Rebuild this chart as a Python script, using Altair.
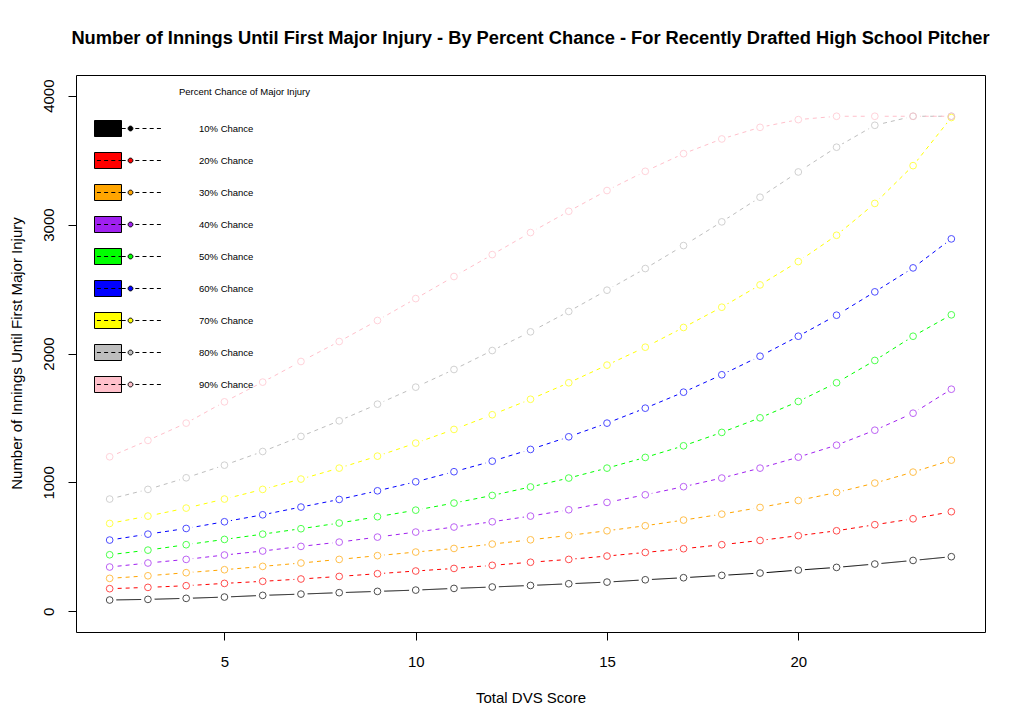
import altair as alt
import pandas as pd

# ---- data ----
scores = [2, 3, 4, 5, 6, 7, 8, 9, 10, 11, 12, 13, 14, 15, 16, 17, 18, 19, 20, 21, 22, 23, 24]
series_names = ["10% Chance", "20% Chance", "30% Chance", "40% Chance", "50% Chance",
                "60% Chance", "70% Chance", "80% Chance", "90% Chance"]
series_keys = ["p10", "p20", "p30", "p40", "p50", "p60", "p70", "p80", "p90"]
series_styles = ["solid", "dashed", "dashed", "dashed", "dashed", "dashed", "dashed", "dashed", "dashed"]
series_colors = ["#000000", "#FF0000", "#FFA500", "#A020F0", "#00FF00",
                 "#0000FF", "#FFFF00", "#BEBEBE", "#FFC0CB"]
p10 = [88, 93, 101, 111, 124, 134, 145, 155, 165, 178, 189, 201, 214, 227, 245, 261, 279, 297, 320, 341, 367, 395, 424]
p20 = [176, 186, 199, 217, 233, 251, 271, 292, 313, 333, 357, 381, 403, 429, 457, 486, 517, 550, 587, 625, 672, 718, 773]
p30 = [256, 276, 300, 323, 349, 375, 403, 432, 460, 488, 522, 555, 589, 625, 664, 708, 754, 806, 860, 922, 995, 1080, 1173]
p40 = [344, 375, 403, 437, 468, 504, 537, 576, 615, 654, 695, 739, 788, 845, 904, 967, 1034, 1111, 1196, 1289, 1405, 1537, 1723]
p50 = [439, 475, 517, 558, 599, 641, 685, 734, 785, 840, 899, 965, 1034, 1111, 1194, 1284, 1388, 1501, 1628, 1773, 1946, 2134, 2300]
p60 = [553, 599, 643, 695, 749, 809, 868, 935, 1005, 1083, 1165, 1256, 1354, 1460, 1576, 1700, 1835, 1979, 2134, 2297, 2478, 2664, 2889]
p70 = [682, 739, 801, 871, 946, 1026, 1111, 1204, 1305, 1411, 1525, 1645, 1773, 1910, 2049, 2202, 2359, 2532, 2713, 2917, 3164, 3457, 3830]
p80 = [871, 946, 1036, 1134, 1240, 1357, 1478, 1607, 1739, 1876, 2023, 2168, 2326, 2491, 2659, 2837, 3021, 3212, 3408, 3600, 3770, 3840, 3840]
p90 = [1199, 1326, 1460, 1625, 1778, 1938, 2093, 2256, 2426, 2597, 2767, 2938, 3103, 3264, 3413, 3550, 3664, 3754, 3814, 3840, 3840, 3840, 3840]
series_values = [p10, p20, p30, p40, p50, p60, p70, p80, p90]
x_ticks = [5, 10, 15, 20]
y_ticks = [0, 1000, 2000, 3000, 4000]

chart_title = "Number of Innings Until First Major Injury - By Percent Chance - For Recently Drafted High School Pitcher"
x_title = "Total DVS Score"
y_title = "Number of Innings Until First Major Injury"
legend_title = "Percent Chance of Major Injury"

rows = []
for name, key, style, vals in zip(series_names, series_keys, series_styles, series_values):
    for s, v in zip(scores, vals):
        rows.append({"score": s, "innings": v, "series": name, "key": key, "style": style})
df = pd.DataFrame(rows)

FONT = "Liberation Sans"

x_enc = alt.X("score:Q",
              scale=alt.Scale(domain=[1.12, 24.88], nice=False, zero=False),
              axis=alt.Axis(values=x_ticks, title=x_title, labelBaseline="alphabetic",
                            labelPadding=26, titleY=70, titleX=454.5,
                            titleBaseline="alphabetic"))
y_enc = alt.Y("innings:Q",
              scale=alt.Scale(domain=[-160, 4160], nice=False, zero=False),
              axis=alt.Axis(values=y_ticks, title=y_title, labelAngle=270, format="d",
                            labelAlign="center", labelBaseline="alphabetic",
                            labelPadding=15, titleAngle=270, titleX=-55,
                            titleY=278, titleBaseline="alphabetic",
                            titleAlign="center"))

key_scale = alt.Scale(domain=series_keys, range=series_colors)

base = alt.Chart(df)

lines = base.mark_line(strokeWidth=1).encode(
    x=x_enc, y=y_enc,
    stroke=alt.Stroke("key:N", scale=key_scale, legend=None),
    strokeDash=alt.StrokeDash("style:N", scale=alt.Scale(domain=["solid", "dashed"], range=[[1, 0], [4, 4]]), legend=None),
)

gaps = base.mark_circle(color="white", opacity=1, size=180).encode(x=x_enc, y=y_enc)

points = base.mark_point(filled=False, size=45, strokeWidth=1).encode(
    x=x_enc, y=y_enc,
    stroke=alt.Stroke("key:N", scale=key_scale, legend=None),
)

sym_path = ("M-1,-1H2.375V1H-1Z"
            "M-0.7,0H-0.2M0.2,0H0.7M1.1,0H1.6M2.0,0H2.375"
            "M2.375,0H2.9"
            "M3.5,-0.3A0.3,0.3,0,1,1,3.5,0.3A0.3,0.3,0,1,1,3.5,-0.3Z"
            "M4.1,0H4.6M5.0,0H5.5M5.9,0H6.4M6.8,0H7.3")

legend_layer = base.mark_point(filled=True, opacity=0).encode(
    x=x_enc, y=y_enc,
    fill=alt.Fill("series:N",
                  scale=alt.Scale(domain=series_names, range=series_colors),
                  legend=alt.Legend(title=None, orient="none", legendX=18, legendY=45,
                                    symbolType=sym_path, symbolSize=256,
                                    symbolStrokeColor="black", symbolStrokeWidth=1,
                                    symbolOpacity=1, labelOffset=88, labelFontSize=9.5,
                                    labelFont=FONT, labelColor="black", rowPadding=11,
                                    padding=0)),
)

legend_title_layer = alt.Chart(pd.DataFrame({"t": [legend_title]})).mark_text(
    align="left", baseline="middle", fontSize=9.5, font=FONT, color="black"
).encode(text="t:N", x=alt.value(103), y=alt.value(17))

chart = alt.layer(legend_layer, lines, gaps, points, legend_title_layer).properties(
    width=909, height=557,
    title=alt.TitleParams(text=chart_title, fontSize=18.3, font=FONT, fontWeight="bold",
                          anchor="middle", offset=13, baseline="alphabetic", color="black"),
    padding={"left": 68, "top": 67, "right": 31, "bottom": 87},
    autosize=alt.AutoSizeParams(type="none"),
).configure_view(
    stroke="black", strokeWidth=1
).configure_axis(
    labelFont=FONT, labelFontSize=15, labelColor="black",
    titleFont=FONT, titleFontSize=15, titleFontWeight="normal", titleColor="black",
    tickColor="black", tickSize=8, tickWidth=1, domain=False, grid=False,
    labelFlush=False
)

chart.save("out.html", embed_options={"renderer": "svg", "actions": False})
